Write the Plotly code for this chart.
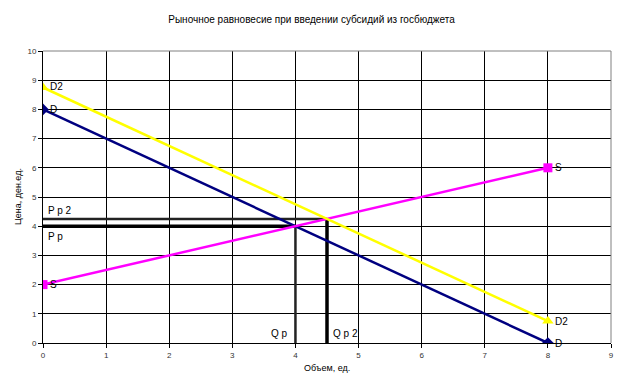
import plotly.graph_objects as go

# Data
q_ends = [0, 8]
demand_D = [8, 0]
supply_S = [2, 6]
demand_D2 = [8.75, 0.75]
eq_q = [4, 4.5]      # Q p, Q p 2
eq_p = [4, 4.25]     # P p, P p 2

title = "Рыночное равновесие при введении субсидий из госбюджета"
x_title = "Объем, ед."
y_title = "Цена, ден.ед."

FONT = "Liberation Sans, Arial, sans-serif"
fig = go.Figure()

# equilibrium guide lines
fig.add_trace(go.Scatter(x=[0, eq_q[1]], y=[eq_p[1], eq_p[1]], mode="lines",
                         line=dict(color="#222222", width=2.5), showlegend=False, hoverinfo="skip"))
fig.add_trace(go.Scatter(x=[0, eq_q[0]], y=[eq_p[0], eq_p[0]], mode="lines",
                         line=dict(color="black", width=3.5), showlegend=False, hoverinfo="skip"))
fig.add_trace(go.Scatter(x=[eq_q[0], eq_q[0]], y=[0, eq_p[0]], mode="lines",
                         line=dict(color="#222222", width=2.5), showlegend=False, hoverinfo="skip"))
fig.add_trace(go.Scatter(x=[eq_q[1], eq_q[1]], y=[0, eq_p[1]], mode="lines",
                         line=dict(color="black", width=3.5), showlegend=False, hoverinfo="skip"))

# curves
fig.add_trace(go.Scatter(x=q_ends, y=demand_D, mode="lines+markers", name="D",
                         line=dict(color="#000080", width=2.5),
                         marker=dict(symbol="diamond", size=9, color="#000080"), showlegend=False))
fig.add_trace(go.Scatter(x=q_ends, y=supply_S, mode="lines+markers", name="S",
                         line=dict(color="#FF00FF", width=2.5),
                         marker=dict(symbol="square", size=9, color="#FF00FF"), showlegend=False))
fig.add_trace(go.Scatter(x=q_ends, y=demand_D2, mode="lines+markers", name="D2",
                         line=dict(color="#FFFF00", width=2.5),
                         marker=dict(symbol="triangle-up", size=10, color="#FFFF00"), showlegend=False))

def lab(x, y, text, xs=0, ys=0, xa="left"):
    fig.add_annotation(x=x, y=y, text=text, showarrow=False, xanchor=xa, yanchor="middle",
                       xshift=xs, yshift=ys, font=dict(family=FONT, size=10, color="black"))

lab(q_ends[0], demand_D2[0], "D2", xs=5, ys=1)
lab(q_ends[0], demand_D[0], "D", xs=5)
lab(q_ends[0], supply_S[0], "S", xs=5)
lab(q_ends[1], supply_S[1], "S", xs=5)
lab(q_ends[1], demand_D2[1], "D2", xs=5)
lab(q_ends[1], demand_D[1], "D", xs=5)
lab(0, eq_p[1], "P p 2", xs=3, ys=8)
lab(0, eq_p[0], "P p", xs=3, ys=-10)
lab(eq_q[0], 0, "Q p", xs=-5, ys=10, xa="right")
lab(eq_q[1], 0, "Q p 2", xs=4, ys=10)

# axis titles
fig.add_annotation(xref="paper", yref="paper", x=0.5, y=-25/292, text=x_title, showarrow=False,
                   xanchor="center", yanchor="middle", font=dict(family=FONT, size=9, color="black"))
fig.add_annotation(xref="paper", yref="paper", x=-25/568, y=0.5, text=y_title, showarrow=False,
                   textangle=-90, xanchor="center", yanchor="middle",
                   font=dict(family=FONT, size=9, color="black"))

# gray plot border top/right
fig.add_shape(type="line", xref="x domain", yref="y domain", x0=0, x1=1, y0=1, y1=1,
              line=dict(color="#808080", width=1))
fig.add_shape(type="line", xref="x domain", yref="y domain", x0=1, x1=1, y0=0, y1=1,
              line=dict(color="#808080", width=1))

fig.update_layout(
    width=623, height=388,
    margin=dict(l=43, r=12, t=51, b=45, autoexpand=False),
    paper_bgcolor="white", plot_bgcolor="white",
    title=dict(text=title, x=0.5, xanchor="center", y=1 - 19/388, yanchor="middle",
               font=dict(family=FONT, size=10, color="black"), automargin=False),
    font=dict(family=FONT, size=9, color="black"),
)
fig.update_xaxes(range=[0, 9], tick0=0, dtick=1, showgrid=True, gridcolor="black", gridwidth=1,
                 showline=True, linecolor="black", linewidth=1, zeroline=False, automargin=False,
                 ticks="outside", ticklen=4, tickcolor="black",
                 tickfont=dict(family=FONT, size=8, color="#333333"))
fig.update_yaxes(range=[0, 10], tick0=0, dtick=1, showgrid=True, gridcolor="black", gridwidth=1,
                 showline=True, linecolor="black", linewidth=1, zeroline=False, automargin=False,
                 ticks="outside", ticklen=4, tickcolor="black",
                 tickfont=dict(family=FONT, size=8, color="#333333"))

fig.write_html("out.html", config={"displayModeBar": False},
               post_script="document.body.style.margin='0';")
